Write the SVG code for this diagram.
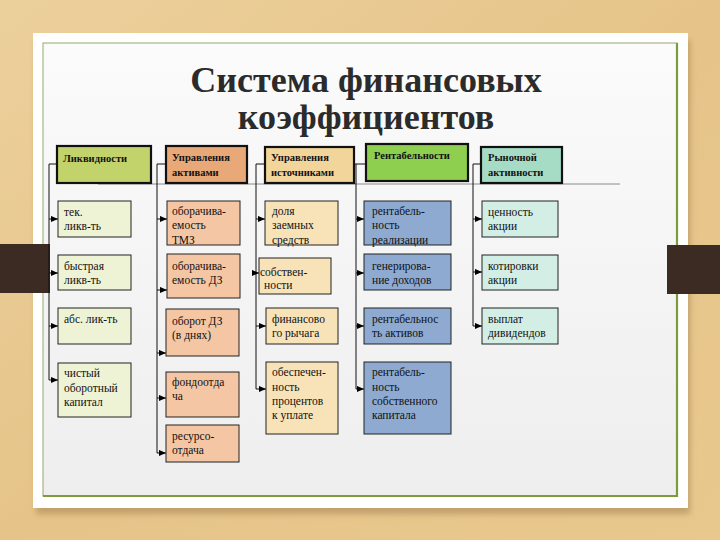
<svg xmlns="http://www.w3.org/2000/svg" width="720" height="540" viewBox="0 0 720 540">
<defs>
<linearGradient id="wood" x1="0" y1="0" x2="1" y2="1">
<stop offset="0" stop-color="#ecd09c"/>
<stop offset="0.5" stop-color="#e6c489"/>
<stop offset="1" stop-color="#e9c88e"/>
</linearGradient>
<linearGradient id="paper" x1="0" y1="0" x2="0" y2="1">
<stop offset="0" stop-color="#fbfbfb"/>
<stop offset="1" stop-color="#eeeeee"/>
</linearGradient>
<filter id="sh" x="-5%" y="-5%" width="110%" height="115%"><feGaussianBlur stdDeviation="3"/></filter>
<marker id="ah" viewBox="0 0 8 8" refX="8" refY="4" markerWidth="7" markerHeight="7" markerUnits="userSpaceOnUse" orient="auto">
<path d="M0,0.5 L8,4 L0,7.5 z" fill="#000"/>
</marker>
<style>
.title{font-family:'Liberation Serif','Times New Roman',serif;font-weight:bold;font-size:36px;fill:#2b2b2b;text-anchor:middle}
.hd{stroke:#111;stroke-width:2.2}
.it{stroke:#222;stroke-width:1}
.ht{font-family:'Liberation Serif','Times New Roman',serif;font-weight:bold;font-size:10.5px;fill:#111}
.t{font-family:'Liberation Serif','Times New Roman',serif;font-size:11.5px;fill:#111}
.c{fill:none;stroke:#111;stroke-width:1}
.a{fill:none;stroke:#111;stroke-width:1;marker-end:url(#ah)}
</style>
</defs>
<rect width="720" height="540" fill="url(#wood)"/>
<rect x="36" y="40" width="654" height="474" fill="#a08050" opacity="0.55" filter="url(#sh)"/>
<rect x="33" y="33" width="655" height="475" fill="#ffffff"/>
<rect x="43" y="43" width="634" height="453" fill="url(#paper)" stroke="#9aa66a" stroke-width="1"/>
<line x1="677" y1="43" x2="677" y2="497" stroke="#7f9a3c" stroke-width="2.2"/>
<line x1="43" y1="496" x2="678" y2="496" stroke="#7f9a3c" stroke-width="2.2"/>
<rect x="0" y="244" width="50" height="49" fill="#3b2b22"/>
<rect x="667" y="245" width="53" height="49" fill="#3b2b22"/>

<text class="title" x="366" y="92">Система финансовых</text>
<text class="title" x="366" y="129">коэффициентов</text>

<line x1="98" y1="184" x2="620" y2="184" stroke="#8a8a8a" stroke-width="1"/>

<g id="connectors">
<path class="c" d="M57,164 H49 V380"/>
<path class="a" d="M49,219 H58"/>
<path class="a" d="M49,273 H58"/>
<path class="a" d="M49,326 H58"/>
<path class="a" d="M49,380 H58"/>
<path class="c" d="M166,164 H157 V453"/>
<path class="a" d="M157,219 H167"/>
<path class="a" d="M157,290 H167"/>
<path class="a" d="M157,353 H166"/>
<path class="a" d="M157,398 H166"/>
<path class="a" d="M157,453 H166"/>
<path class="c" d="M265,164 H256 V389"/>
<path class="a" d="M256,219 H265"/>
<path class="a" d="M256,273 H259"/>
<path class="a" d="M256,326 H266"/>
<path class="a" d="M256,389 H266"/>
<path class="c" d="M354,164 H366 M356,164 V389"/>
<path class="a" d="M356,219 H364"/>
<path class="a" d="M356,273 H364"/>
<path class="a" d="M356,326 H364"/>
<path class="a" d="M356,389 H364"/>
<path class="c" d="M481,164 H473 V326"/>
<path class="a" d="M473,219 H482"/>
<path class="a" d="M473,272 H482"/>
<path class="a" d="M473,326 H482"/>
</g>

<g id="h1"><rect class="hd" x="57" y="146" width="94" height="37" fill="#c3d36b"/><text class="ht" x="63" y="162">Ликвидности</text></g>
<g id="h2"><rect class="hd" x="166" y="146" width="81" height="37" fill="#e8a878"/><text class="ht" x="172" y="161">Управления</text><text class="ht" x="172" y="176">активами</text></g>
<g id="h3"><rect class="hd" x="265" y="147" width="89" height="36" fill="#f2d59b"/><text class="ht" x="271" y="161">Управления</text><text class="ht" x="271" y="176">источниками</text></g>
<g id="h4"><rect class="hd" x="366" y="144" width="102" height="37" fill="#8fcf4f"/><text class="ht" x="374" y="159">Рентабельности</text></g>
<g id="h5"><rect class="hd" x="481" y="147" width="81" height="36" fill="#a6dcc5"/><text class="ht" x="488" y="161">Рыночной</text><text class="ht" x="488" y="176">активности</text></g>

<g id="n11"><rect class="it" x="58" y="201" width="73" height="36" fill="#eef3d6"/><text class="t" x="64" y="216">тек.</text><text class="t" x="64" y="230">ликв-ть</text></g>
<g id="n12"><rect class="it" x="58" y="255" width="73" height="35" fill="#eef3d6"/><text class="t" x="64" y="270">быстрая</text><text class="t" x="64" y="284">ликв-ть</text></g>
<g id="n13"><rect class="it" x="58" y="308" width="73" height="36" fill="#eef3d6"/><text class="t" x="64" y="323">абс. лик-ть</text></g>
<g id="n14"><rect class="it" x="58" y="363" width="73" height="54" fill="#eef3d6"/><text class="t" x="64" y="377">чистый</text><text class="t" x="64" y="392">оборотный</text><text class="t" x="64" y="406">капитал</text></g>

<g id="n21"><rect class="it" x="167" y="201" width="73" height="44" fill="#f4c6a4"/><text class="t" x="172" y="215">оборачива-</text><text class="t" x="172" y="229">емость</text><text class="t" x="172" y="244">ТМЗ</text></g>
<g id="n22"><rect class="it" x="167" y="254" width="73" height="44" fill="#f4c6a4"/><text class="t" x="172" y="270">оборачива-</text><text class="t" x="172" y="284">емость ДЗ</text></g>
<g id="n23"><rect class="it" x="166" y="309" width="73" height="47" fill="#f4c6a4"/><text class="t" x="172" y="325">оборот ДЗ</text><text class="t" x="172" y="339">(в днях)</text></g>
<g id="n24"><rect class="it" x="166" y="372" width="73" height="45" fill="#f4c6a4"/><text class="t" x="172" y="386">фондоотда</text><text class="t" x="172" y="400">ча</text></g>
<g id="n25"><rect class="it" x="166" y="425" width="73" height="37" fill="#f4c6a4"/><text class="t" x="172" y="440">ресурсо-</text><text class="t" x="172" y="454">отдача</text></g>

<g id="n31"><rect class="it" x="265" y="201" width="73" height="44" fill="#f8e3b9"/><text class="t" x="272" y="215">доля</text><text class="t" x="272" y="229">заемных</text><text class="t" x="272" y="244">средств</text></g>
<g id="n32"><rect class="it" x="259" y="258" width="72" height="36" fill="#f8e3b9"/><text class="t" x="260" y="276">собствен-</text><text class="t" x="264" y="289">ности</text></g>
<g id="n33"><rect class="it" x="266" y="308" width="72" height="36" fill="#f8e3b9"/><text class="t" x="272" y="323">финансово</text><text class="t" x="272" y="337">го рычага</text></g>
<g id="n34"><rect class="it" x="266" y="362" width="72" height="72" fill="#f8e3b9"/><text class="t" x="272" y="376">обеспечен-</text><text class="t" x="272" y="391">ность</text><text class="t" x="272" y="405">процентов</text><text class="t" x="272" y="419">к уплате</text></g>

<g id="n41"><rect class="it" x="364" y="201" width="87" height="44" fill="#8eaad0"/><text class="t" x="372" y="215">рентабель-</text><text class="t" x="372" y="229">ность</text><text class="t" x="372" y="244">реализации</text></g>
<g id="n42"><rect class="it" x="364" y="254" width="87" height="36" fill="#8eaad0"/><text class="t" x="372" y="270">генерирова-</text><text class="t" x="372" y="284">ние доходов</text></g>
<g id="n43"><rect class="it" x="364" y="308" width="87" height="36" fill="#8eaad0"/><text class="t" x="372" y="323">рентабельнос</text><text class="t" x="372" y="337">ть активов</text></g>
<g id="n44"><rect class="it" x="364" y="362" width="87" height="72" fill="#8eaad0"/><text class="t" x="372" y="376">рентабель-</text><text class="t" x="372" y="391">ность</text><text class="t" x="372" y="405">собственного</text><text class="t" x="372" y="419">капитала</text></g>

<g id="n51"><rect class="it" x="482" y="201" width="76" height="36" fill="#d3eee5"/><text class="t" x="488" y="216">ценность</text><text class="t" x="488" y="230">акции</text></g>
<g id="n52"><rect class="it" x="482" y="255" width="76" height="35" fill="#d3eee5"/><text class="t" x="488" y="270">котировки</text><text class="t" x="488" y="284">акции</text></g>
<g id="n53"><rect class="it" x="482" y="308" width="76" height="36" fill="#d3eee5"/><text class="t" x="488" y="323">выплат</text><text class="t" x="488" y="337">дивидендов</text></g>
</svg>
